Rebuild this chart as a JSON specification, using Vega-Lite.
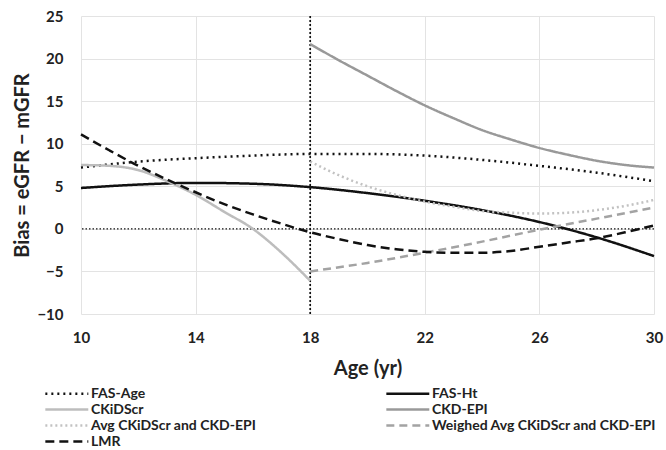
{
  "$schema": "https://vega.github.io/schema/vega-lite/v6.json",
  "width": 573,
  "height": 298,
  "autosize": "none",
  "padding": {"left": 81, "top": 16, "right": 12, "bottom": 136},
  "background": "white",
  "config": {
    "font": "Lato",
    "view": {"stroke": null},
    "axis": {
      "grid": true,
      "gridColor": "#e3e3e3",
      "gridWidth": 1,
      "domain": false,
      "ticks": false,
      "labelFont": "Lato",
      "labelFontWeight": "bold",
      "labelFontSize": 15,
      "labelColor": "#222",
      "titleFont": "Lato",
      "titleFontWeight": "bold",
      "titleFontSize": 20,
      "titleColor": "#222"
    }
  },
  "layer": [
    {
      "data": {"values": [{"x": 18}]},
      "mark": {"type": "rule", "color": "#111", "strokeDash": [2, 2], "strokeWidth": 1.7},
      "encoding": {"x": {"field": "x", "type": "quantitative"}}
    },
    {
      "data": {"values": [{"y": 0}]},
      "mark": {"type": "rule", "color": "#111", "strokeDash": [1.5, 2], "strokeWidth": 1.2},
      "encoding": {"y": {"field": "y", "type": "quantitative"}}
    },
    {
      "data": {
        "values": [
          {"s": "FAS-Age", "a": 10, "b": 7.2}, {"s": "FAS-Age", "a": 12, "b": 7.9}, {"s": "FAS-Age", "a": 14, "b": 8.3}, {"s": "FAS-Age", "a": 16, "b": 8.6}, {"s": "FAS-Age", "a": 18, "b": 8.8}, {"s": "FAS-Age", "a": 20, "b": 8.8}, {"s": "FAS-Age", "a": 22, "b": 8.6}, {"s": "FAS-Age", "a": 24, "b": 8.1}, {"s": "FAS-Age", "a": 26, "b": 7.4}, {"s": "FAS-Age", "a": 28, "b": 6.6}, {"s": "FAS-Age", "a": 30, "b": 5.6},
          {"s": "FAS-Ht", "a": 10, "b": 4.8}, {"s": "FAS-Ht", "a": 12, "b": 5.2}, {"s": "FAS-Ht", "a": 14, "b": 5.4}, {"s": "FAS-Ht", "a": 16, "b": 5.3}, {"s": "FAS-Ht", "a": 18, "b": 4.9}, {"s": "FAS-Ht", "a": 20, "b": 4.2}, {"s": "FAS-Ht", "a": 22, "b": 3.3}, {"s": "FAS-Ht", "a": 24, "b": 2.2}, {"s": "FAS-Ht", "a": 26, "b": 0.8}, {"s": "FAS-Ht", "a": 28, "b": -1.0}, {"s": "FAS-Ht", "a": 30, "b": -3.2},
          {"s": "CKiDScr", "a": 10, "b": 7.5}, {"s": "CKiDScr", "a": 11, "b": 7.4}, {"s": "CKiDScr", "a": 12, "b": 6.9}, {"s": "CKiDScr", "a": 13, "b": 5.6}, {"s": "CKiDScr", "a": 14, "b": 4.0}, {"s": "CKiDScr", "a": 15, "b": 2.0}, {"s": "CKiDScr", "a": 16, "b": 0.0}, {"s": "CKiDScr", "a": 17, "b": -2.8}, {"s": "CKiDScr", "a": 18, "b": -6.1},
          {"s": "CKD-EPI", "a": 18, "b": 21.7}, {"s": "CKD-EPI", "a": 19, "b": 19.8}, {"s": "CKD-EPI", "a": 20, "b": 18.0}, {"s": "CKD-EPI", "a": 21, "b": 16.2}, {"s": "CKD-EPI", "a": 22, "b": 14.5}, {"s": "CKD-EPI", "a": 23, "b": 13.0}, {"s": "CKD-EPI", "a": 24, "b": 11.6}, {"s": "CKD-EPI", "a": 25, "b": 10.5}, {"s": "CKD-EPI", "a": 26, "b": 9.5}, {"s": "CKD-EPI", "a": 27, "b": 8.7}, {"s": "CKD-EPI", "a": 28, "b": 8.0}, {"s": "CKD-EPI", "a": 29, "b": 7.5}, {"s": "CKD-EPI", "a": 30, "b": 7.2},
          {"s": "Avg CKiDScr  and CKD-EPI", "a": 18, "b": 7.9}, {"s": "Avg CKiDScr  and CKD-EPI", "a": 19, "b": 6.3}, {"s": "Avg CKiDScr  and CKD-EPI", "a": 20, "b": 5.0}, {"s": "Avg CKiDScr  and CKD-EPI", "a": 21, "b": 4.0}, {"s": "Avg CKiDScr  and CKD-EPI", "a": 22, "b": 3.2}, {"s": "Avg CKiDScr  and CKD-EPI", "a": 23, "b": 2.6}, {"s": "Avg CKiDScr  and CKD-EPI", "a": 24, "b": 2.1}, {"s": "Avg CKiDScr  and CKD-EPI", "a": 25, "b": 1.9}, {"s": "Avg CKiDScr  and CKD-EPI", "a": 26, "b": 1.8}, {"s": "Avg CKiDScr  and CKD-EPI", "a": 27, "b": 1.9}, {"s": "Avg CKiDScr  and CKD-EPI", "a": 28, "b": 2.2}, {"s": "Avg CKiDScr  and CKD-EPI", "a": 29, "b": 2.7}, {"s": "Avg CKiDScr  and CKD-EPI", "a": 30, "b": 3.4},
          {"s": "Weighed Avg CKiDScr and CKD-EPI", "a": 18, "b": -5.0}, {"s": "Weighed Avg CKiDScr and CKD-EPI", "a": 20, "b": -4.0}, {"s": "Weighed Avg CKiDScr and CKD-EPI", "a": 22, "b": -2.8}, {"s": "Weighed Avg CKiDScr and CKD-EPI", "a": 24, "b": -1.5}, {"s": "Weighed Avg CKiDScr and CKD-EPI", "a": 26, "b": -0.1}, {"s": "Weighed Avg CKiDScr and CKD-EPI", "a": 28, "b": 1.2}, {"s": "Weighed Avg CKiDScr and CKD-EPI", "a": 30, "b": 2.5},
          {"s": "LMR", "a": 10, "b": 11.1}, {"s": "LMR", "a": 11, "b": 9.2}, {"s": "LMR", "a": 12, "b": 7.4}, {"s": "LMR", "a": 13, "b": 5.8}, {"s": "LMR", "a": 14, "b": 4.3}, {"s": "LMR", "a": 15, "b": 2.9}, {"s": "LMR", "a": 16, "b": 1.7}, {"s": "LMR", "a": 17, "b": 0.6}, {"s": "LMR", "a": 18, "b": -0.4}, {"s": "LMR", "a": 19, "b": -1.2}, {"s": "LMR", "a": 20, "b": -1.9}, {"s": "LMR", "a": 21, "b": -2.4}, {"s": "LMR", "a": 22, "b": -2.7}, {"s": "LMR", "a": 23, "b": -2.8}, {"s": "LMR", "a": 24, "b": -2.8}, {"s": "LMR", "a": 25, "b": -2.6}, {"s": "LMR", "a": 26, "b": -2.1}, {"s": "LMR", "a": 27, "b": -1.6}, {"s": "LMR", "a": 28, "b": -1.1}, {"s": "LMR", "a": 29, "b": -0.4}, {"s": "LMR", "a": 30, "b": 0.4}
        ]
      },
      "mark": {"type": "line", "interpolate": "monotone", "strokeWidth": 2.5},
      "encoding": {
        "x": {
          "field": "a", "type": "quantitative",
          "scale": {"domain": [10, 30], "nice": false, "zero": false},
          "axis": {"values": [10, 14, 18, 22, 26, 30], "title": "Age (yr)", "labelFlush": false, "labelPadding": 16, "titlePadding": 13}
        },
        "y": {
          "field": "b", "type": "quantitative",
          "scale": {"domain": [-10, 25], "nice": false},
          "axis": {"values": [-10, -5, 0, 5, 10, 15, 20, 25], "title": "Bias = eGFR − mGFR", "labelPadding": 18, "titlePadding": 4}
        },
        "color": {
          "field": "s", "type": "nominal",
          "scale": {
            "domain": ["FAS-Age", "CKiDScr", "Avg CKiDScr  and CKD-EPI", "LMR", "FAS-Ht", "CKD-EPI", "Weighed Avg CKiDScr and CKD-EPI"],
            "range": ["#111111", "#bdbdbd", "#c2c2c2", "#111111", "#111111", "#999999", "#a3a3a3"]
          },
          "legend": {
            "title": null, "orient": "none", "legendX": -37, "legendY": 369,
            "columns": 2, "columnPadding": 121, "rowPadding": 0,
            "labelFont": "Lato", "labelFontWeight": "bold", "labelFontSize": 14, "labelColor": "#222", "labelLimit": 400,
            "symbolType": "M-1,0H5", "symbolSize": 205, "symbolStrokeWidth": 2.5, "labelOffset": 30
          }
        },
        "strokeDash": {
          "field": "s", "type": "nominal",
          "scale": {
            "domain": ["FAS-Age", "CKiDScr", "Avg CKiDScr  and CKD-EPI", "LMR", "FAS-Ht", "CKD-EPI", "Weighed Avg CKiDScr and CKD-EPI"],
            "range": [[2, 4], [1, 0], [2, 3], [9, 5], [1, 0], [1, 0], [8, 5]]
          },
          "legend": {
            "title": null, "orient": "none", "legendX": -37, "legendY": 369,
            "columns": 2, "columnPadding": 121, "rowPadding": 0,
            "labelFont": "Lato", "labelFontWeight": "bold", "labelFontSize": 14, "labelColor": "#222", "labelLimit": 400,
            "symbolType": "M-1,0H5", "symbolSize": 205, "symbolStrokeWidth": 2.5, "labelOffset": 30
          }
        }
      }
    }
  ]
}
